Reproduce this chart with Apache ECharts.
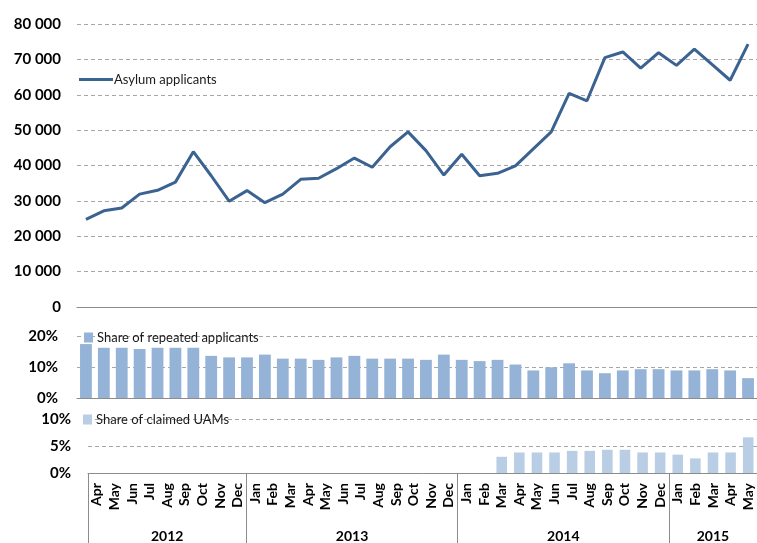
<!DOCTYPE html>
<html>
<head>
<meta charset="utf-8">
<script src="https://cdn.jsdelivr.net/npm/echarts@6/dist/echarts.min.js"></script>
<style>
  html, body { margin: 0; padding: 0; background: #fff; }
  #chart { width: 757px; height: 543px; }
</style>
</head>
<body>
<div id="chart"></div>
<script>
// months Apr 2012 .. May 2015
var months = ['Apr', 'May', 'Jun', 'Jul', 'Aug', 'Sep', 'Oct', 'Nov', 'Dec',
    'Jan', 'Feb', 'Mar', 'Apr', 'May', 'Jun', 'Jul', 'Aug', 'Sep', 'Oct', 'Nov', 'Dec',
    'Jan', 'Feb', 'Mar', 'Apr', 'May', 'Jun', 'Jul', 'Aug', 'Sep', 'Oct', 'Nov', 'Dec',
    'Jan', 'Feb', 'Mar', 'Apr', 'May'];
var years = ['2012', '2013', '2014', '2015'];
var yearCounts = [9, 12, 12, 5];

var applicants = [24800, 27200, 28000, 31900, 33000, 35300, 43900, 37100, 29900,
    32900, 29500, 31900, 36100, 36400, 39100, 42100, 39500, 45300, 49500, 44200, 37300,
    43200, 37100, 37800, 39900, 44700, 49500, 60400, 58300, 70500, 72100, 67500, 71900,
    68300, 72900, 68500, 64100, 74300];
var repeated = [17.4, 16.2, 16.2, 15.8, 16.2, 16.2, 16.2, 13.6, 13.1,
    13.1, 14.0, 12.7, 12.7, 12.3, 13.1, 13.6, 12.7, 12.7, 12.7, 12.3, 14.0,
    12.3, 11.9, 12.3, 10.8, 8.9, 9.9, 11.2, 8.9, 8.0, 8.9, 9.3, 9.3,
    8.9, 8.9, 9.3, 8.9, 6.4];
var uams = [null, null, null, null, null, null, null, null, null,
    null, null, null, null, null, null, null, null, null, null, null, null,
    null, null, 3.0, 3.8, 3.8, 3.8, 4.1, 4.1, 4.3, 4.3, 3.8, 3.8,
    3.4, 2.7, 3.8, 3.8, 6.6];

// year group boundaries and centres on a 0..38 scale
var bounds = [0], centres = [];
yearCounts.forEach(function (n, i) {
    centres.push(bounds[i] + n / 2);
    bounds.push(bounds[i] + n);
});

var font = 'Lato, "Open Sans", sans-serif';
var gridColor = '#a6a6a6';
var axisColor = '#8c8c8c';

var myChart = echarts.init(document.getElementById('chart'));

var option = {
    animation: false,
    textStyle: { fontFamily: font },
    legend: [
        {
            data: [{ name: 'Asylum applicants', icon: 'path://M0,0 L34,0 L34,3 L0,3 Z' }],
            left: 74, top: 68,
            itemWidth: 34, itemHeight: 3, itemGap: 0,
            textStyle: { fontSize: 13, color: '#1a1a1a', fontFamily: font, padding: [0, 0, 0, -4] }
        },
        {
            data: ['Share of repeated applicants'],
            icon: 'rect', left: 79, top: 326,
            itemWidth: 9, itemHeight: 10,
            textStyle: { fontSize: 13, color: '#1a1a1a', fontFamily: font, padding: [0, 0, 0, -1] }
        },
        {
            data: ['Share of claimed UAMs'],
            icon: 'rect', left: 78, top: 408,
            itemWidth: 9, itemHeight: 10,
            textStyle: { fontSize: 13, color: '#1a1a1a', fontFamily: font, padding: [0, 0, 0, -1] }
        }
    ],
    grid: [
        { left: 77, right: 0, top: 24, height: 283 },
        { left: 77, right: 0, top: 336, height: 62 },
        { left: 88, right: -5, top: 419, height: 54 }
    ],
    xAxis: [
        {
            type: 'category', gridIndex: 0, data: months,
            axisLine: { lineStyle: { color: axisColor } },
            axisTick: { length: 5, lineStyle: { color: axisColor } },
            axisLabel: { show: false }
        },
        {
            type: 'category', gridIndex: 1, data: months,
            axisLine: { lineStyle: { color: axisColor } },
            axisTick: { length: 5, lineStyle: { color: axisColor } },
            axisLabel: { show: false }
        },
        {
            type: 'category', gridIndex: 2, data: months,
            axisLine: { lineStyle: { color: axisColor } },
            axisTick: { show: false },
            axisLabel: {
                rotate: 90, interval: 0, margin: 10,
                fontSize: 14, fontWeight: 'bold', color: '#000', fontFamily: font
            }
        },
        {
            type: 'value', gridIndex: 2, min: 0, max: months.length,
            position: 'bottom',
            axisLine: { show: false },
            splitLine: { show: false },
            axisTick: {
                show: true, length: 75, customValues: bounds.slice(0, years.length),
                lineStyle: { color: axisColor }
            },
            axisLabel: {
                customValues: centres, margin: 56,
                fontSize: 14, fontWeight: 'bold', color: '#000', fontFamily: font,
                formatter: function (v) {
                    var i = centres.indexOf(v);
                    return i >= 0 ? years[i] : '';
                }
            }
        }
    ],
    yAxis: [
        {
            type: 'value', gridIndex: 0, min: 0, max: 80000, interval: 10000,
            axisLine: { show: false }, axisTick: { show: false },
            splitLine: { lineStyle: { color: gridColor, type: [4, 3] } },
            axisLabel: {
                margin: 16, fontSize: 15, fontWeight: 'bold', color: '#000', fontFamily: font,
                formatter: function (v) { return v === 0 ? '0' : (v / 1000) + ' 000'; }
            }
        },
        {
            type: 'value', gridIndex: 1, min: 0, max: 20, interval: 10,
            axisLine: { show: false }, axisTick: { show: false },
            splitLine: { lineStyle: { color: gridColor, type: [4, 3] } },
            axisLabel: {
                margin: 19, fontSize: 15, fontWeight: 'bold', color: '#000', fontFamily: font,
                formatter: '{value}%'
            }
        },
        {
            type: 'value', gridIndex: 2, min: 0, max: 10, interval: 5,
            axisLine: { show: false }, axisTick: { show: false },
            splitLine: { lineStyle: { color: gridColor, type: [4, 3] } },
            axisLabel: {
                margin: 17, fontSize: 15, fontWeight: 'bold', color: '#000', fontFamily: font,
                formatter: '{value}%'
            }
        }
    ],
    series: [
        {
            name: 'Asylum applicants', type: 'line',
            xAxisIndex: 0, yAxisIndex: 0,
            data: applicants,
            symbol: 'none',
            lineStyle: { color: '#3b6391', width: 3 },
            itemStyle: { color: '#3b6391' }
        },
        {
            name: 'Share of repeated applicants', type: 'bar',
            xAxisIndex: 1, yAxisIndex: 1,
            data: repeated, barWidth: '66%',
            itemStyle: { color: '#95b3d7' }
        },
        {
            name: 'Share of claimed UAMs', type: 'bar',
            xAxisIndex: 2, yAxisIndex: 2,
            data: uams, barWidth: '60%',
            itemStyle: { color: '#b9cde5' }
        }
    ]
};

myChart.setOption(option);
</script>
</body>
</html>
